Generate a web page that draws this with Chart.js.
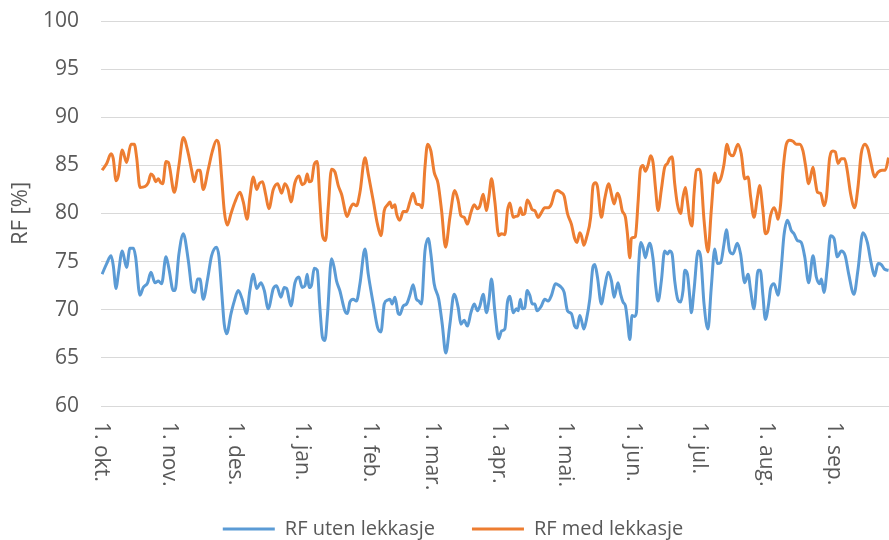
<!DOCTYPE html>
<html>
<head>
<meta charset="utf-8">
<script src="https://cdn.jsdelivr.net/npm/chart.js@4.4.1/dist/chart.umd.min.js"></script>
<style>
  html, body { margin: 0; padding: 0; background: #fff; }
  #wrap { width: 889px; height: 540px; }
</style>
</head>
<body>
<div id="wrap"><canvas id="rf-chart"></canvas></div>
<script>
// Dag nr. regnet fra 1. oktober
const manedStart = [0, 31, 61, 92, 123, 151, 182, 212, 243, 273, 304, 335];
const manedNavn = ["1. okt.", "1. nov.", "1. des.", "1. jan.", "1. feb.", "1. mar.",
  "1. apr.", "1. mai.", "1. jun.", "1. jul.", "1. aug.", "1. sep."];

// RF uten lekkasje
const dagerUten = [0.5, 2.6, 4.6, 5.6, 6.9, 7.9, 9.7, 11.7, 13.2, 14.8, 15.8, 17.8, 19.3, 21.3, 22.8, 24.7, 26.2, 27.7, 29.7, 31.1, 33.0, 33.8, 35.6, 37.6, 39.9, 41.7, 42.9, 44.1,
  45.2, 46.7, 48.7, 50.5, 52.8, 53.9, 55.1, 56.3, 57.4, 59.4, 60.9, 62.7, 64.5, 66.5, 68.0, 69.6, 71.1, 73.1, 74.6, 76.4, 78.7, 80.2, 82.2, 83.7, 84.8, 86.8, 88.6,
  90.4, 91.9, 93.2, 94.2, 95.1, 96.2, 97.4, 98.8, 100.0, 101.2, 102.3, 103.5, 105.3, 106.5, 107.6, 109.1, 111.4, 112.6, 113.7, 115.2, 116.7, 118.3, 120.6, 122.1, 124.4, 126.3, 127.9, 129.4, 130.9, 132.0, 133.0, 134.3, 135.8,
  136.5, 138.1, 139.6, 141.1, 142.6, 144.1, 145.2, 146.4, 148.0, 149.5, 150.7, 152.2, 154.3, 155.9, 157.5, 159.4, 161.3, 163.2, 164.4, 165.9, 167.4, 169.0, 170.5, 172.0, 173.1, 174.6, 176.1, 177.2, 178.4, 179.9,
  181.7, 183.0, 184.5, 185.7, 186.8, 188.3, 189.8, 190.6, 191.6, 192.5, 193.6, 194.7, 195.9, 197.0, 198.2, 199.2, 201.2, 202.7, 204.3, 205.8, 207.6, 208.8, 210.4, 211.6, 213.1, 214.9, 216.4, 217.5, 218.7, 219.5, 220.6, 221.8, 223.3, 224.8, 225.6,
  226.8, 228.6, 230.1, 231.7, 233.2, 234.4, 236.2, 237.4, 238.5, 239.6, 240.5, 241.6, 242.6, 243.8, 244.6, 245.4, 246.6, 247.6, 248.7, 249.9, 250.7, 252.2, 253.3, 254.5, 256.0, 257.5, 258.8, 259.8, 260.9, 262.1, 263.6, 264.8, 265.9, 266.7, 267.9, 269.0, 269.7, 270.9,
  272.8, 274.0, 275.5, 277.3, 278.8, 280.4, 281.6, 283.1, 284.6, 285.7, 287.2, 288.7, 290.7, 292.2, 294.1, 295.6, 296.8, 298.3, 300.2, 301.2, 302.4, 303.5, 305.0, 305.9, 307.5, 309.3, 310.8, 312.0, 313.6, 315.4, 316.6, 318.1,
  319.9, 321.5, 323.3, 325.3, 326.8, 328.3, 329.1, 330.3, 331.8, 333.3, 334.9, 336.4, 338.2, 340.0, 341.6, 344.0, 345.8, 348.1, 350.1, 351.9, 353.4, 355.0, 356.5, 358.0, 359.8];
const rfUten = [73.7, 74.8, 75.6, 74.6, 72.2, 73.7, 76.1, 74.4, 76.4, 76.4, 75.5, 71.5, 72.3, 72.8, 73.9, 72.8, 73.0, 72.7, 75.5, 74.2, 72.0, 72.0, 75.8, 77.9, 75.1, 72.0, 71.8, 73.2,
  73.2, 71.1, 73.2, 75.6, 76.5, 75.5, 72.0, 68.5, 67.5, 69.6, 70.9, 72.0, 71.1, 69.6, 72.0, 73.7, 72.2, 72.8, 72.0, 70.1, 72.2, 72.5, 71.3, 72.3, 72.2, 70.4, 72.8,
  73.4, 72.3, 72.5, 73.7, 72.3, 72.6, 74.3, 74.1, 70.2, 67.1, 66.8, 69.6, 75.3, 74.4, 73.0, 72.0, 69.9, 69.6, 70.8, 71.1, 70.9, 72.7, 76.3, 73.7, 70.6, 68.2, 67.7, 70.6, 71.0, 71.1, 70.6, 71.3, 69.6,
  69.5, 70.4, 70.6, 71.5, 72.6, 71.1, 70.9, 70.6, 76.1, 77.4, 75.8, 72.7, 71.1, 68.5, 65.5, 68.5, 71.6, 70.2, 68.5, 68.9, 68.3, 69.7, 70.6, 69.9, 70.4, 71.6, 69.7, 70.9, 73.2, 69.9,
  67.0, 67.8, 68.0, 70.8, 71.4, 69.7, 70.1, 69.9, 71.1, 70.1, 70.2, 72.0, 71.5, 70.6, 70.6, 69.9, 70.4, 71.1, 70.9, 71.5, 72.7, 72.6, 72.3, 71.8, 69.9, 69.6, 68.3, 68.1, 69.4, 68.9, 68.0, 69.0, 71.1, 74.5, 74.7,
  73.4, 70.6, 72.3, 73.9, 73.0, 71.3, 72.8, 71.6, 70.8, 70.4, 68.9, 66.9, 69.4, 69.3, 69.7, 73.7, 77.0, 76.5, 75.4, 76.5, 76.9, 75.3, 72.7, 70.9, 73.0, 76.1, 75.8, 76.1, 75.8, 73.0, 71.0, 70.8, 72.0, 74.1, 73.7, 71.3, 69.7, 72.0,
  76.1, 75.4, 70.6, 68.0, 72.3, 76.3, 74.8, 74.9, 76.8, 78.3, 76.1, 75.8, 76.9, 75.8, 72.8, 73.7, 72.0, 70.1, 74.1, 74.1, 71.5, 69.0, 70.6, 72.2, 72.7, 71.5, 74.4, 77.7, 79.3, 78.2, 77.9, 77.2,
  77.0, 75.5, 72.8, 75.6, 73.4, 72.7, 73.2, 71.8, 74.4, 77.7, 77.4, 75.5, 76.1, 75.6, 73.7, 71.6, 74.1, 78.0, 77.0, 74.8, 73.5, 74.8, 74.7, 74.2, 74.1];

// RF med lekkasje
const dagerMed = [0.5, 2.6, 4.6, 5.6, 6.9, 7.9, 9.7, 11.7, 13.7, 15.2, 16.3, 17.8, 20.1, 21.6, 22.8, 23.9, 25.0, 26.2, 27.3, 28.2, 29.7, 30.8, 33.5, 35.6, 37.6, 39.9, 41.4, 42.6, 44.1,
  45.2, 46.7, 49.0, 50.8, 52.8, 53.9, 55.1, 56.3, 57.7, 59.4, 61.2, 63.5, 65.0, 66.8, 68.0, 69.6, 71.1, 72.3, 73.8, 75.2, 76.7, 78.7, 80.7, 82.5, 84.0, 85.5, 86.8, 88.6,
  90.4, 91.9, 93.2, 94.2, 95.1, 96.2, 97.4, 98.8, 100.0, 101.2, 102.6, 103.8, 105.3, 106.9, 108.4, 109.9, 112.5, 114.0, 115.2, 116.7, 118.3, 120.6, 122.1, 124.4, 126.3, 127.9, 129.4, 130.9, 132.0, 133.0, 134.3, 135.0, 136.5,
  138.1, 139.6, 141.1, 142.6, 144.1, 145.7, 146.7, 148.0, 149.2, 150.7, 152.2, 154.0, 155.6, 157.4, 159.4, 161.6, 163.2, 164.4, 165.9, 167.4, 169.0, 170.5, 172.0, 173.1, 174.6, 176.1, 177.2, 178.4, 179.9,
  181.7, 183.0, 184.5, 185.7, 186.8, 188.3, 189.4, 190.6, 191.6, 192.5, 193.6, 194.7, 195.9, 197.0, 198.2, 199.7, 201.2, 202.7, 204.3, 205.8, 207.3, 208.5, 210.1, 211.6, 213.1, 214.9, 216.4, 217.5, 218.7, 219.5, 220.6, 221.8, 223.7, 224.8, 225.9,
  226.8, 228.6, 230.1, 232.0, 233.2, 234.4, 235.9, 237.0, 238.1, 239.6, 240.5, 241.6, 242.3, 243.1, 244.1, 245.4, 246.4, 247.6, 248.7, 249.9, 251.1, 252.2, 253.3, 254.5, 256.0, 257.5, 258.8, 259.8, 260.9, 262.1, 263.3, 264.8, 265.9, 267.0, 267.9, 269.0, 270.0, 270.9, 272.0, 273.3, 274.0,
  275.5, 277.3, 278.8, 280.4, 281.6, 283.1, 284.6, 286.0, 287.2, 288.7, 291.0, 292.5, 294.1, 295.6, 296.8, 298.3, 299.9, 300.9, 302.4, 303.5, 304.7, 305.9, 307.5, 308.5, 309.3, 310.5, 311.6, 313.1, 314.6, 316.1, 317.7,
  319.2, 320.7, 321.8, 323.3, 325.3, 326.3, 327.3, 328.8, 330.3, 331.4, 332.9, 334.4, 335.5, 336.7, 338.2, 339.7, 340.9, 342.5, 344.3, 345.8, 347.3, 348.9, 350.4, 351.9, 353.4, 355.0, 356.8, 358.3, 359.8];
const rfMed = [84.5, 85.2, 86.2, 85.7, 83.4, 83.9, 86.6, 85.3, 87.2, 87.2, 85.8, 82.7, 82.8, 83.2, 84.1, 83.9, 83.3, 83.6, 83.2, 83.1, 85.4, 85.3, 82.2, 85.0, 87.9, 86.2, 84.5, 83.3, 84.5,
  84.5, 82.5, 84.6, 86.4, 87.6, 87.1, 83.8, 80.3, 78.8, 80.0, 81.2, 82.2, 81.2, 79.4, 81.7, 83.8, 82.5, 83.1, 83.3, 82.0, 80.5, 82.5, 83.1, 82.1, 83.1, 82.5, 81.2, 83.2,
  83.9, 83.0, 83.2, 84.1, 83.3, 83.4, 85.1, 85.4, 81.3, 77.7, 77.2, 80.6, 84.6, 84.3, 82.9, 82.0, 79.7, 80.6, 81.0, 80.8, 82.2, 85.8, 84.1, 81.3, 78.9, 77.7, 80.3, 80.9, 81.2, 80.6, 80.9, 80.0, 79.3,
  80.2, 80.2, 81.2, 82.1, 81.0, 80.9, 80.6, 84.8, 87.2, 86.5, 84.3, 83.1, 80.3, 76.5, 79.6, 82.4, 81.3, 79.8, 79.6, 78.9, 80.1, 80.9, 80.5, 80.8, 82.0, 80.3, 81.7, 83.6, 81.3,
  77.7, 77.9, 77.8, 80.3, 81.1, 79.6, 79.7, 79.8, 80.6, 79.9, 80.0, 81.4, 81.0, 80.4, 80.3, 79.6, 80.1, 80.6, 80.6, 81.0, 82.2, 82.4, 82.2, 81.8, 80.0, 78.9, 77.4, 77.0, 78.0, 77.7, 76.7, 77.5, 79.6, 82.9, 83.2,
  82.8, 79.6, 81.5, 83.1, 82.0, 81.0, 82.1, 81.6, 80.3, 79.6, 77.9, 75.4, 77.4, 77.5, 77.6, 81.3, 84.6, 85.0, 84.4, 85.0, 86.0, 85.3, 82.7, 80.3, 82.5, 84.8, 85.2, 85.7, 85.9, 83.1, 81.0, 80.0, 81.7, 82.7, 81.3, 79.3, 78.7, 82.0, 84.5, 84.6, 84.1,
  79.3, 76.0, 80.3, 84.2, 83.2, 83.6, 85.1, 87.2, 86.2, 86.0, 87.2, 86.2, 83.6, 83.8, 81.7, 79.6, 81.7, 82.9, 80.3, 77.9, 78.2, 79.8, 80.6, 80.1, 79.4, 81.0, 84.5, 87.2, 87.6, 87.5, 87.2,
  87.2, 86.5, 85.1, 83.1, 84.8, 83.4, 82.2, 82.1, 80.8, 81.7, 85.8, 86.5, 86.4, 85.2, 85.7, 85.7, 84.5, 82.0, 80.6, 82.7, 86.2, 87.2, 86.7, 85.1, 83.8, 84.3, 84.5, 84.5, 85.8];

const tekstFarge = "#595959";
const fontNavn = "'Open Sans', sans-serif";

Chart.defaults.font.family = fontNavn;
Chart.defaults.font.size = 20;
Chart.defaults.color = tekstFarge;

// Datoetikettene står loddrett og leses ovenfra og ned
const loddretteDatoer = {
  id: "loddretteDatoer",
  beforeInit(chart) {
    // fast høyde på forklaringen, slik at den havner nederst som i Excel
    const fit = chart.legend.fit;
    chart.legend.fit = function () {
      fit.call(this);
      this.height = 58;
    };
  },
  afterDraw(chart) {
    const skala = chart.scales.x;
    const ctx = chart.ctx;
    ctx.save();
    ctx.font = "21px " + fontNavn;
    ctx.fillStyle = tekstFarge;
    ctx.textAlign = "left";
    ctx.textBaseline = "middle";
    skala.ticks.forEach((tick, i) => {
      ctx.save();
      ctx.translate(skala.getPixelForTick(i), chart.chartArea.bottom + 16);
      ctx.rotate(Math.PI / 2);
      ctx.fillText(tick.label, 0, 0);
      ctx.restore();
    });
    ctx.restore();
  }
};

const ctx = document.getElementById("rf-chart").getContext("2d");
new Chart(ctx, {
  type: "line",
  data: {
    datasets: [
      {
        label: "RF uten lekkasje",
        data: dagerUten.map((d, i) => ({ x: d, y: rfUten[i] })),
        borderColor: "#5b9bd5",
        backgroundColor: "#5b9bd5",
        borderWidth: 3,
        pointRadius: 0,
        pointStyle: "line",
        cubicInterpolationMode: "monotone"
      },
      {
        label: "RF med lekkasje",
        data: dagerMed.map((d, i) => ({ x: d, y: rfMed[i] })),
        borderColor: "#ed7d31",
        backgroundColor: "#ed7d31",
        borderWidth: 3,
        pointRadius: 0,
        pointStyle: "line",
        cubicInterpolationMode: "monotone"
      }
    ]
  },
  options: {
    responsive: true,
    maintainAspectRatio: false,
    animation: false,
    layout: { padding: { top: 21, right: 0, bottom: 0, left: 17 } },
    plugins: {
      tooltip: { enabled: false },
      legend: {
        position: "bottom",
        labels: {
          usePointStyle: true,
          pointStyleWidth: 52,
          padding: 37,
          color: tekstFarge,
          font: { size: 20 }
        }
      }
    },
    scales: {
      x: {
        type: "linear",
        min: 0,
        max: 360,
        grid: { display: false },
        border: { display: false },
        afterBuildTicks: (skala) => {
          skala.ticks = manedStart.map(v => ({ value: v }));
        },
        afterFit: (skala) => {
          skala.height = 76;
          skala.paddingLeft = 0;
          skala.paddingRight = 0;
        },
        ticks: {
          autoSkip: false,
          minRotation: 90,
          maxRotation: 90,
          color: "rgba(0,0,0,0)",
          callback: (value) => manedNavn[manedStart.indexOf(value)]
        }
      },
      y: {
        min: 60,
        max: 100,
        afterFit: (skala) => {
          skala.width = 84;
          skala.paddingTop = 0;
          skala.paddingBottom = 0;
        },
        grid: { color: "#d9d9d9", lineWidth: 1, drawTicks: false },
        border: { display: false },
        ticks: { stepSize: 5, padding: 22, font: { size: 21 } },
        title: {
          display: true,
          text: "RF [%]",
          color: tekstFarge,
          font: { size: 22 },
          padding: { top: -9, bottom: 0 }
        }
      }
    }
  },
  plugins: [loddretteDatoer]
});
</script>
</body>
</html>
